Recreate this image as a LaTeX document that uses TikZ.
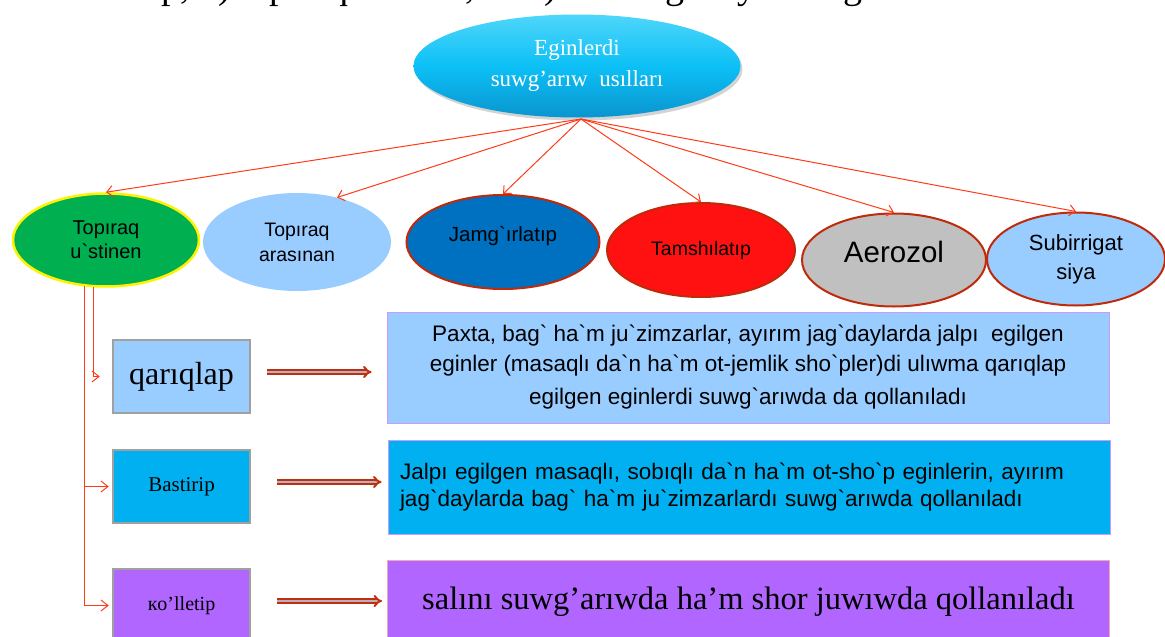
\documentclass[tikz,border=0pt]{standalone}
\usepackage{fontspec}
\setmainfont{Liberation Serif}
\newfontfamily\arialf{Liberation Sans}
\usetikzlibrary{shapes.geometric,arrows.meta,shadows}
\definecolor{arrowred}{HTML}{FF3A17}
\definecolor{brd}{HTML}{BF2A0A}
\definecolor{lblue}{HTML}{99CCFF}
\definecolor{green1}{HTML}{00B050}
\definecolor{dblue}{HTML}{0070C0}
\definecolor{red1}{HTML}{FF1111}
\definecolor{gray1}{HTML}{C0C0C0}
\definecolor{cyan1}{HTML}{00B0F0}
\definecolor{topcyan}{HTML}{0CC0F6}
\definecolor{topcyanL}{HTML}{4FD6FA}
\definecolor{topcyanD}{HTML}{0A95CF}
\definecolor{purp}{HTML}{B066FF}
\definecolor{purpb}{HTML}{CC99FF}
\definecolor{pinkb}{HTML}{F4A6B4}
\definecolor{boxgray}{HTML}{A0A0A0}
\definecolor{darrow}{HTML}{C0300A}
\definecolor{darrowin}{HTML}{B8B0C8}
\tikzset{
  ell/.style={ellipse, inner sep=0pt, align=center, font=\arialf\fontsize{20}{24}\selectfont},
  cat/.style={ell, draw=brd, line width=2pt},
  conn/.style={draw=arrowred, line width=1pt, -{Straight Barb[length=6pt,width=11pt]}},
  lconn/.style={draw=arrowred, line width=1pt, -{Straight Barb[length=7pt,width=11pt]}},
  lbox/.style={rectangle, draw=boxgray, line width=2.5pt, minimum width=137pt, minimum height=73pt, inner sep=0pt},
  rbox/.style={rectangle, line width=0.8pt, minimum width=722pt, inner sep=0pt},
  fat/.style={draw=darrow, double=darrowin, double distance=1.8pt, line width=2pt, -{Implies[length=7pt]}},
  topline/.style={anchor=base west, inner sep=0pt, font=\fontsize{38}{42}\selectfont},
}
\begin{document}
\begin{tikzpicture}[x=1pt,y=-1pt]
\useasboundingbox (0,0) rectangle (1165,637);
% cropped line of text at the top (only its lowest part is visible)
\begin{scope}
\clip (0,0) rectangle (1165,11);
\node[topline, anchor=base east] (topA) at (190,-1.5) {3) aerozol, 4) tamshılatıp,};
\node[topline] (topB) at (199,-1.5) {5) topıraq astınan,};
\node[topline] (topC) at (525,-1.5) {6) subirrigatsiya suwg’arıw usılları};
\end{scope}
% main ellipse
\node[ell, minimum width=327pt, minimum height=103pt, top color=topcyanL, bottom color=topcyanD, middle color=topcyan,
  drop shadow={opacity=0.35, shadow xshift=2pt, shadow yshift=-3pt},
  text=white, font=\fontsize{23}{31}\selectfont] (top) at (577,66) {Eginlerdi\\suwg’arıw\ \ usılları};
\coordinate (o) at (581,119);
% category ellipses
\node[ell, minimum width=186pt, minimum height=93pt, fill=green1, draw=yellow, line width=2.5pt] (ust) at (106,240) {Topıraq\\u`stinen};
\node[ell, minimum width=188pt, minimum height=98pt, fill=lblue, font=\arialf\fontsize{19.5}{25}\selectfont] (ara) at (297,242) {Topıraq\\arasınan};
\node[cat, minimum width=193pt, minimum height=94pt, fill=dblue, text depth=16pt, font=\arialf\fontsize{20.5}{24}\selectfont] (jam) at (503,242) {Jamg`ırlatıp};
\node[cat, minimum width=188pt, minimum height=94pt, fill=red1, font=\arialf\fontsize{19.5}{22}\selectfont] (tam) at (701,250) {Tamshılatıp};
\node[cat, minimum width=184pt, minimum height=93pt, fill=gray1, font=\arialf\fontsize{29.5}{32}\selectfont, text depth=16pt] (aer) at (894,260) {Aerozol};
\node[cat, minimum width=178pt, minimum height=93pt, fill=lblue, font=\arialf\fontsize{22}{29}\selectfont] (sub) at (1076,259) {Subirrigat\\siya};
% arrows from main ellipse
\draw[conn] (o) -- (ust.north);
\draw[conn] (o) -- (ara.48);
\draw[conn] (o) -- (jam.north);
\draw[conn] (o) -- (tam.north);
\draw[conn] (o) -- (aer.north);
\draw[conn] (o) -- (sub.north);
% left boxes
\node[lbox, fill=lblue, font=\fontsize{32}{35}\selectfont] (qar) at (181.5,376.5) {qarıqlap};
\node[lbox, fill=cyan1, font=\fontsize{21}{24}\selectfont] (bas) at (181.5,486.5) {Bastirip};
\node[lbox, fill=purp, font=\fontsize{20}{23}\selectfont] (kol) at (181.5,605.5) {кo’lletip};
% connectors from green ellipse
\draw[lconn] (ust.255.6) |- ([xshift=-12pt]qar.west);
\draw[lconn] (ust.245.4) |- ([xshift=-3pt]bas.west);
\draw[lconn] (ust.245.4) |- ([xshift=-3pt]kol.west);
% right boxes
\node[rbox, fill=lblue, draw=purpb, minimum height=111pt, align=center,
  font=\arialf\fontsize{22.5}{30}\selectfont] (r1) at (748,367.5)
  {Paxta, bag` ha`m ju`zimzarlar, ayırım jag`daylarda jalpı\ \ egilgen\\
   eginler (masaqlı da`n ha`m ot-jemlik sho`pler)di ulıwma qarıqlap\\[3pt]
   egilgen eginlerdi suwg`arıwda da qollanıladı};
\node[rbox, fill=cyan1, draw=purpb, minimum height=94pt, text width=698pt, align=left,
  font=\arialf\fontsize{22.5}{27}\selectfont] (r2) at (749,487)
  {Jalpı egilgen masaqlı, sobıqlı da`n ha`m ot-sho`p eginlerin, ayırım\\
   jag`daylarda bag` ha`m ju`zimzarlardı suwg`arıwda qollanıladı};
\node[rbox, fill=purp, draw=pinkb, minimum height=94pt, text depth=18pt,
  font=\fontsize{32.5}{36}\selectfont] (r3) at (748.5,607)
  {salını suwg’arıwda ha’m shor juwıwda qollanıladı};
% fat arrows
\draw[fat] ([xshift=16pt,yshift=4.5pt]qar.east) -- ([xshift=-15pt,yshift=-4.5pt]r1.west);
\draw[fat] ([xshift=26pt,yshift=4.5pt]bas.east) -- ([xshift=-6pt,yshift=5pt]r2.west);
\draw[fat] ([xshift=26pt,yshift=4.5pt]kol.east) -- ([xshift=-5pt,yshift=6pt]r3.west);
\end{tikzpicture}
\end{document}
